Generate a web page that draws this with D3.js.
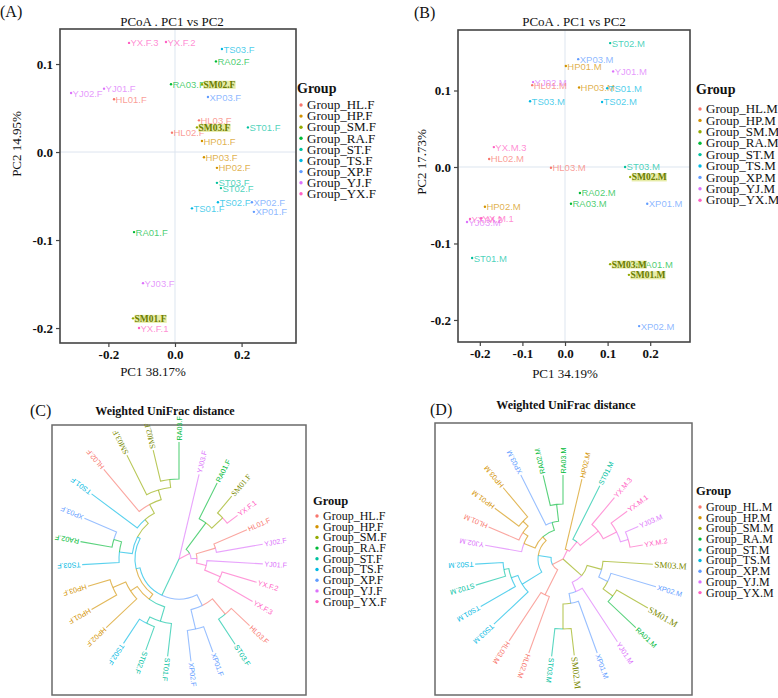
<!DOCTYPE html>
<html><head><meta charset="utf-8">
<script src="https://cdn.jsdelivr.net/npm/d3@7"></script>
<style>body{margin:0;background:#fff}svg{display:block}</style>
</head><body>
<svg id="chart" width="778" height="698"></svg>
<script>
// ---------- data ----------
const groupCodes = ["HL","HP","SM","RA","ST","TS","XP","YJ","YX"];
const groupColors = ["#F8766D","#D39200","#93AA00","#00BA38","#00C19F","#00B9E3","#619CFF","#DB72FB","#FF61C3"];
const legendF = ["Group_HL.F","Group_HP.F","Group_SM.F","Group_RA.F","Group_ST.F","Group_TS.F","Group_XP.F","Group_YJ.F","Group_YX.F"];
const legendM = ["Group_HL.M","Group_HP.M","Group_SM.M","Group_RA.M","Group_ST.M","Group_TS.M","Group_XP.M","Group_YJ.M","Group_YX.M"];

const samplesA = ["YX.F.3","YX.F.2","TS03.F","RA02.F","RA03.F","SM02.F","YJ02.F","YJ01.F","HL01.F","XP03.F","HL03.F","SM03.F","ST01.F","HL02.F","HP01.F","HP03.F","HP02.F","ST03.F","ST02.F","TS02.F","XP02.F","TS01.F","XP01.F","RA01.F","YJ03.F","SM01.F","YX.F.1"];
const pc1A = [-0.138,-0.027,0.141,0.123,-0.012,0.081,-0.312,-0.213,-0.183,0.099,0.072,0.066,0.219,-0.009,0.081,0.087,0.126,0.126,0.138,0.129,0.231,0.051,0.237,-0.123,-0.096,-0.126,-0.108];
const pc2A = [0.124,0.125,0.117,0.103,0.077,0.077,0.067,0.072,0.060,0.0625,0.036,0.028,0.028,0.022,0.0125,-0.006,-0.018,-0.035,-0.041,-0.057,-0.057,-0.064,-0.068,-0.091,-0.149,-0.189,-0.200];

const samplesB = ["ST02.M","XP03.M","HP01.M","YJ01.M","YJ02.M","HL01.M","HP03.M","TS01.M","TS03.M","TS02.M","YX.M.3","HL02.M","HL03.M","ST03.M","SM02.M","RA02.M","RA03.M","XP01.M","HP02.M","YX.M.2","YX.M.1","YJ03.M","ST01.M","RA01.M","SM03.M","SM01.M","XP02.M"];
const pc1B = [0.106,0.031,0.002,0.113,-0.075,-0.077,0.033,0.099,-0.082,0.087,-0.167,-0.178,-0.033,0.141,0.153,0.035,0.014,0.193,-0.188,-0.223,-0.197,-0.230,-0.218,0.169,0.106,0.150,0.174];
const pc2B = [0.162,0.141,0.132,0.125,0.111,0.107,0.104,0.103,0.086,0.085,0.026,0.0105,-0.001,0.0,-0.013,-0.034,-0.048,-0.048,-0.052,-0.068,-0.067,-0.072,-0.119,-0.127,-0.127,-0.141,-0.208];

const xTicksA = [-0.2, 0.0, 0.2], xTickLabelsA = ["-0.2","0.0","0.2"];
const yTicksA = [0.1, 0.0, -0.1, -0.2], yTickLabelsA = ["0.1","0.0","-0.1","-0.2"];
const xTicksB = [-0.2,-0.1,0.0,0.1,0.2], xTickLabelsB = ["-0.2","-0.1","0.0","0.1","0.2"];
const yTicksB = [0.1, 0.0, -0.1, -0.2], yTickLabelsB = ["0.1","0.0","-0.1","-0.2"];

// Weighted UniFrac dendrograms (branch lengths)
const treeC = "(YJ03.F:0.087,((RA01.F:0.040,(SM01.F:0.022,YX.F.1:0.013):0.015):0.033,((HL01.F:0.036,YJ02.F:0.047):0.020,(YJ01.F:0.056,(YX.F.2:0.036,YX.F.3:0.040):0.017):0.010):0.006):0.012,(((HL03.F:0.025,ST03.F:0.030):0.020,(XP01.F:0.027,XP02.F:0.031):0.020):0.012,(((ST01.F:0.033,(ST02.F:0.025,TS02.F:0.029):0.007):0.015,(HP02.F:0.042,(HP01.F:0.029,HP03.F:0.023):0.014):0.008):0.006,((TS03.F:0.037,(RA02.F:0.032,XP03.F:0.035):0.008):0.013,(TS01.F:0.057,(HL02.F:0.055,(SM03.F:0.044,(SM02.F:0.032,RA03.F:0.037):0.008):0.010):0.010):0.005):0.003):0.004):0.040);";
const treeD = "((HP02.M:0.072,(ST01.M:0.060,(YX.M.3:0.035,(YX.M.1:0.020,(YJ03.M:0.014,YX.M.2:0.013):0.008):0.015):0.023):0.012):0.010,((SM03.M:0.050,(XP02.M:0.047,(SM01.M:0.036,RA01.M:0.038):0.012):0.010):0.015,(YJ01.M:0.064,(XP01.M:0.055,(SM02.M:0.027,ST03.M:0.028):0.025):0.010):0.010):0.025,((HL02.M:0.060,HL03.M:0.058):0.028,((TS03.M:0.047,(TS01.M:0.040,(ST02.M:0.031,TS02.M:0.028):0.005):0.007):0.023,((YJ02.M:0.037,(HL01.M:0.033,(HP01.M:0.030,HP03.M:0.038):0.007):0.006):0.012,(XP03.M:0.056,(RA02.M:0.031,RA03.M:0.029):0.017):0.008):0.005):0.013):0.012);";

// ---------- helpers ----------
const color = d3.scaleOrdinal().domain(groupCodes).range(groupColors);
const grpOf = name => name.slice(0,2);
const SERIF = "'Liberation Serif','Times New Roman',serif";
const SANS = "'Liberation Sans',Arial,sans-serif";
const svg = d3.select("#chart");

function text(g, x, y, str, size, opts={}) {
  return g.append("text").attr("x",x).attr("y",y).text(str)
    .attr("font-family", opts.family || SERIF).attr("font-size", size)
    .attr("font-weight", opts.weight || "normal")
    .attr("text-anchor", opts.anchor || "start")
    .attr("fill", opts.fill || "#111");
}

function legend(g, x, y0, titleY, items, step, size, titleSize) {
  text(g, x - 4, titleY, "Group", titleSize, {weight:"bold"});
  items.forEach((it, i) => {
    const yy = y0 + i*step;
    g.append("circle").attr("cx", x).attr("cy", yy).attr("r", 1.7).attr("fill", groupColors[i]);
    text(g, x + 6, yy + size*0.33, it, size);
  });
}

function drawPcoa(cfg) {
  const g = svg.append("g");
  const x = d3.scaleLinear().domain(cfg.xDom).range([cfg.left, cfg.right]);
  const y = d3.scaleLinear().domain(cfg.yDom).range([cfg.bottom, cfg.top]);
  g.append("line").attr("x1", x(0)).attr("x2", x(0)).attr("y1", cfg.top).attr("y2", cfg.bottom).attr("stroke","#dde5ef").attr("stroke-width",1);
  g.append("line").attr("y1", y(0)).attr("y2", y(0)).attr("x1", cfg.left).attr("x2", cfg.right).attr("stroke","#dde5ef").attr("stroke-width",1);

  const xa = g.append("g").attr("transform",`translate(0,${cfg.bottom})`)
    .call(d3.axisBottom(x).tickValues(cfg.xTicks).tickFormat((d,i)=>cfg.xTickLabels[i]).tickSize(4).tickPadding(3));
  const ya = g.append("g").attr("transform",`translate(${cfg.left},0)`)
    .call(d3.axisLeft(y).tickValues(cfg.yTicks).tickFormat((d,i)=>cfg.yTickLabels[i]).tickSize(4).tickPadding(3));
  [xa, ya].forEach(a => {
    a.select(".domain").remove();
    a.selectAll("line").attr("stroke","#444").attr("stroke-width",1.2);
    a.selectAll("text").attr("font-family",SERIF).attr("font-size",13).attr("font-weight","bold").attr("fill","#111");
  });
  g.append("rect").attr("x",cfg.left).attr("y",cfg.top).attr("width",cfg.right-cfg.left).attr("height",cfg.bottom-cfg.top)
    .attr("fill","none").attr("stroke","#444").attr("stroke-width",1.6);

  const idx = d3.range(cfg.names.length);
  const order = idx.filter(i => grpOf(cfg.names[i]) !== "SM").concat(idx.filter(i => grpOf(cfg.names[i]) === "SM"));
  order.forEach(i => {
    const nm = cfg.names[i], gr = grpOf(nm);
    const px = x(cfg.pc1[i]), py = y(cfg.pc2[i]);
    if (gr === "SM") {
      const t = text(g, px + 1.5, py + 3.5, nm, 9.5, {weight:"bold", fill:"#6b7c00"});
      const bb = t.node().getBBox();
      g.insert("rect", () => t.node()).attr("x", bb.x).attr("y", bb.y + 1).attr("width", bb.width).attr("height", bb.height - 2)
        .attr("fill", "#dfe58a").attr("opacity", 0.75);
    } else {
      text(g, px + 1.5, py + 3.5, nm, 9.5, {family:SANS, fill:color(gr)}).attr("fill-opacity", 0.72);
    }
    g.append("circle").attr("cx", px).attr("cy", py).attr("r", 1.2).attr("fill", color(gr));
  });

  text(g, cfg.titleX, cfg.titleY, "PCoA . PC1 vs PC2", 13, {anchor:"middle"});
  text(g, cfg.xLabX, cfg.xLabY, cfg.xLab, 13, {anchor:"middle"});
  text(g, 0, 0, cfg.yLab, 13, {anchor:"middle"}).attr("transform", `translate(${cfg.yLabX},${cfg.yLabY}) rotate(-90)`);
  text(g, cfg.tagX, cfg.tagY, cfg.tag, 16);
}

function parseNewick(s) {
  const ancestors = []; let tree = {};
  const tokens = s.split(/\s*(;|\(|\)|,|:)\s*/);
  for (let i = 0; i < tokens.length; i++) {
    const tk = tokens[i];
    if (tk === "(") { const sub = {}; tree.children = [sub]; ancestors.push(tree); tree = sub; }
    else if (tk === ",") { const sub = {}; ancestors[ancestors.length-1].children.push(sub); tree = sub; }
    else if (tk === ")") { tree = ancestors.pop(); }
    else if (tk === ":" || tk === ";" || tk === "") {}
    else {
      const prev = tokens[i-1];
      if (prev === ":") tree.length = parseFloat(tk); else tree.name = tk;
    }
  }
  return tree;
}

function drawTree(cfg) {
  const g = svg.append("g");
  g.append("rect").attr("x",cfg.left).attr("y",cfg.top).attr("width",cfg.right-cfg.left).attr("height",cfg.bottom-cfg.top)
    .attr("fill","none").attr("stroke","#6a6a6a").attr("stroke-width",1.5);
  text(g, cfg.titleX, cfg.titleY, "Weighted UniFrac distance", 12, {anchor:"middle", weight:"bold"});
  text(g, cfg.tagX, cfg.tagY, cfg.tag, 16);

  const root = d3.hierarchy(parseNewick(cfg.newick), d => d.children);
  root.each(d => { d.dist = (d.parent ? d.parent.dist : 0) + (d.data.length || 0); });
  const leaves = root.leaves();
  const ang = d3.scaleLinear().domain([0, leaves.length]).range([0, 360]);
  leaves.forEach((l, i) => { l.ang = ang(i + 1); l.grp = grpOf(l.data.name); });
  root.eachAfter(d => {
    if (d.children) {
      d.ang = (d.children[0].ang + d.children[d.children.length-1].ang) / 2;
      const cnt = d3.rollup(d.leaves(), v => v.length, l => l.grp);
      d.grp = d3.greatest(Array.from(cnt), e => e[1])[0];
    }
  });
  const r = d3.scaleLinear().domain([0, 0.12]).range([0, 120]);
  const pt = (a, rad) => [cfg.cx + rad * Math.sin(a * Math.PI/180), cfg.cy - rad * Math.cos(a * Math.PI/180)];

  root.descendants().filter(d => d.parent).forEach(d => {
    const p = d.parent, rp = r(p.dist), rc = r(d.dist);
    const s = pt(p.ang, rp), e = pt(d.ang, rp), f = pt(d.ang, rc);
    let path = `M${s[0]},${s[1]}`;
    if (rp > 0.01 && Math.abs(d.ang - p.ang) > 0.01) {
      const large = Math.abs(d.ang - p.ang) > 180 ? 1 : 0;
      const sweep = d.ang > p.ang ? 1 : 0;
      path += `A${rp},${rp} 0 ${large} ${sweep} ${e[0]},${e[1]}`;
    } else path = `M${e[0]},${e[1]}`;
    path += `L${f[0]},${f[1]}`;
    g.append("path").attr("d", path).attr("fill","none").attr("stroke", color(d.grp))
      .attr("stroke-width", 1.1).attr("stroke-opacity", 0.65);
  });

  leaves.forEach(l => {
    const [lx, ly] = pt(l.ang, r(l.dist) + 1.5);
    const isSM = l.grp === "SM";
    const t = text(g, 0, 0, l.data.name, isSM ? cfg.smSize : 7.2,
      {family: isSM ? SERIF : SANS, fill: isSM ? "#7a8a00" : color(l.grp)})
      .attr("dy","0.35em").attr("transform", `translate(${lx},${ly}) rotate(${l.ang - 90})`);
    if (isSM) t.attr("font-weight", "normal");
  });

  legend(g, cfg.legX, cfg.legY0, cfg.legTitleY, cfg.legend, 10.7, 12, 12.5);
}

// ---------- panels ----------
drawPcoa({left:60, right:296, top:29, bottom:343, xDom:[-0.3453,0.3634], yDom:[-0.217,0.1398],
  xTicks:xTicksA, xTickLabels:xTickLabelsA, yTicks:yTicksA, yTickLabels:yTickLabelsA,
  names:samplesA, pc1:pc1A, pc2:pc2A, titleX:172, titleY:26, xLab:"PC1 38.17%", xLabX:153, xLabY:376,
  yLab:"PC2 14.95%", yLabX:21, yLabY:144, tag:"(A)", tagX:0, tagY:17});
legend(svg.append("g"), 301, 105, 93, legendF, 11.1, 13, 14);

drawPcoa({left:458, right:690, top:30, bottom:342, xDom:[-0.2512,0.2934], yDom:[-0.2288,0.1791],
  xTicks:xTicksB, xTickLabels:xTickLabelsB, yTicks:yTicksB, yTickLabels:yTickLabelsB,
  names:samplesB, pc1:pc1B, pc2:pc2B, titleX:574, titleY:26, xLab:"PC1 34.19%", xLabX:565, xLabY:378,
  yLab:"PC2 17.73%", yLabX:426, yLabY:162, tag:"(B)", tagX:414, tagY:18});
legend(svg.append("g"), 700, 109, 94, legendM, 11.4, 13, 14);

drawTree({left:52, right:306, top:425, bottom:695, cx:179, cy:559, newick:treeC, smSize:8,
  titleX:165, titleY:415, tag:"(C)", tagX:30, tagY:416, legend:legendF, legX:317, legY0:516, legTitleY:505});
drawTree({left:435, right:692, top:423, bottom:695, cx:563, cy:559, newick:treeD, smSize:9,
  titleX:566, titleY:409, tag:"(D)", tagX:430, tagY:415, legend:legendM, legX:700, legY0:507, legTitleY:495});
</script>
</body></html>
